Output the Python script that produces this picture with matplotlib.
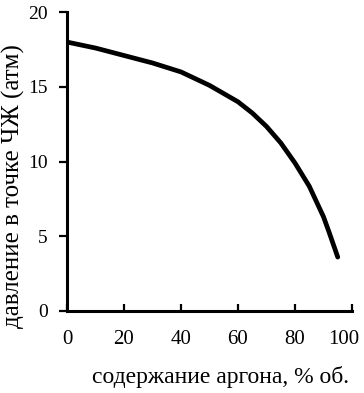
import matplotlib
matplotlib.use("Agg")
import matplotlib.pyplot as plt
from matplotlib.transforms import ScaledTranslation

argon = [0, 10, 20, 30, 40, 50, 60, 65, 70, 75, 80, 85, 90, 92, 95]
pressure = [18.0, 17.6, 17.1, 16.6, 16.0, 15.1, 14.0, 13.25, 12.35, 11.25, 9.9, 8.35, 6.3, 5.25, 3.6]
xticks = [0, 20, 40, 60, 80, 100]
yticks = [0, 5, 10, 15, 20]

plt.rcParams['font.family'] = ['Liberation Serif', 'DejaVu Serif']

fig = plt.figure(figsize=(3.64, 3.93), dpi=100)
ax = fig.add_axes([0.184, 0.209, 0.783, 0.760])
ax.plot(argon, pressure, color='black', lw=3.4, solid_capstyle='round',
        solid_joinstyle='round')
ax.set_xlim(0, 100)
ax.set_ylim(0, 20)
ax.set_xticks(xticks)
ax.set_yticks(yticks)
for s in ['top', 'right']:
    ax.spines[s].set_visible(False)
for s in ['left', 'bottom']:
    ax.spines[s].set_linewidth(2.2)
ax.tick_params(axis='x', direction='in', length=5, width=1.6, pad=14, labelsize=15)
ax.tick_params(axis='y', direction='out', length=6, width=1.6, pad=8, labelsize=14)
labels = ax.get_xticklabels()
labels[-1].set_transform(labels[-1].get_transform() +
                         ScaledTranslation(-8 / 100, 0, fig.dpi_scale_trans))
ax.set_xlabel('содержание аргона, % об.', fontsize=17, labelpad=12, x=0.537)
ax.set_ylabel('давление в точке ЧЖ (атм)', fontsize=18, labelpad=2, y=0.418)
fig.savefig('out.png', dpi=100)
